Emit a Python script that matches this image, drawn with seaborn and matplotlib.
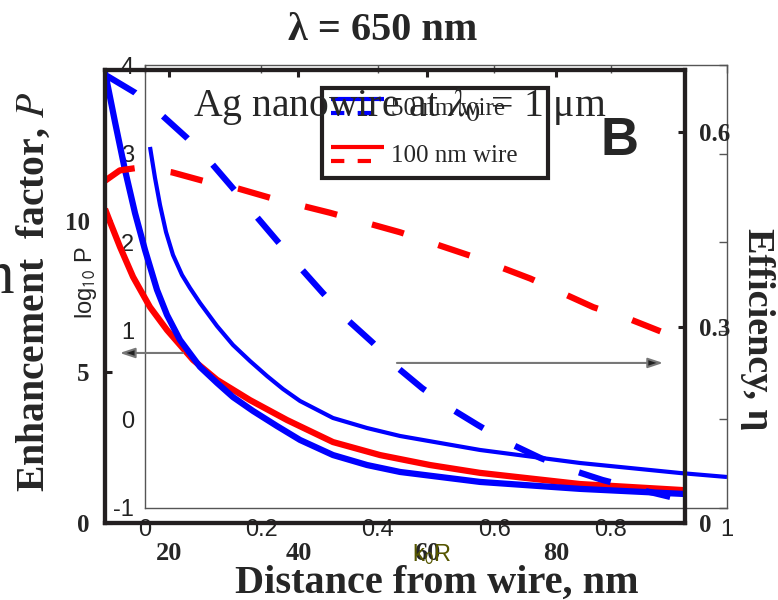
import numpy as np
import pandas as pd
import matplotlib
matplotlib.use("Agg")
import matplotlib.pyplot as plt
import seaborn as sns
from matplotlib.legend_handler import HandlerBase
from matplotlib.lines import Line2D
from matplotlib.patches import Rectangle

# --- outer panel: enhancement factor P (left) and efficiency (right) vs distance, nm
dist_p50 = [10, 11.55, 13.1, 14.66, 16.21, 18.07, 19.62, 21.64, 24.74, 27.38, 29.86, 32.97,
            36.69, 40.26, 45.38, 50.66, 55.78, 68.19, 83.71, 100]
p_50nm = [14.93, 13.28, 11.69, 10.26, 9.04, 7.72, 6.89, 6.06, 5.17, 4.64, 4.17, 3.71,
          3.21, 2.75, 2.25, 1.92, 1.69, 1.36, 1.13, 0.96]

dist_p100 = [10, 10.78, 12.33, 14.35, 16.98, 19.62, 23.66, 27.38, 32.5, 38.24, 45.38, 52.67,
             60.43, 68.19, 83.71, 99.7]
p_100nm = [10.40, 9.97, 9.14, 8.15, 7.15, 6.39, 5.40, 4.74, 4.07, 3.41, 2.68, 2.25,
           1.92, 1.66, 1.29, 1.09]

dist_eta50 = [10.3, 14.7, 18.9, 22.7, 26.6, 29.9, 33.6, 36.7, 40.0, 43.7, 47.7, 51.5,
              55.3, 59.2, 63.6, 67.9, 72.6, 77.5, 82.5, 87.2, 93.1, 97.7]
eta_50nm = [0.686, 0.660, 0.625, 0.591, 0.551, 0.513, 0.469, 0.433, 0.395, 0.354, 0.311, 0.277,
            0.239, 0.207, 0.176, 0.150, 0.123, 0.100, 0.081, 0.066, 0.051, 0.040]

dist_eta100 = [10, 12.3, 15.1, 20.4, 25.2, 30.7, 35.6, 44.9, 55.8, 66.7, 76.0, 85.8, 91.1, 96.2]
eta_100nm = [0.525, 0.541, 0.545, 0.538, 0.525, 0.513, 0.499, 0.476, 0.446, 0.410, 0.375,
             0.331, 0.314, 0.294]

# --- inner panel: log10 P vs k0R (Ag nanowire at 1 um)
k0r = [0.0086, 0.0172, 0.0258, 0.0361, 0.0481, 0.0636, 0.0773, 0.0945, 0.1237, 0.1512,
       0.1804, 0.2096, 0.2371, 0.2663, 0.323, 0.3814, 0.4381, 0.5756, 0.7474, 0.9192, 1.0]
log10_p = [3.075, 2.725, 2.420, 2.115, 1.856, 1.630, 1.483, 1.314, 1.054, 0.840,
           0.659, 0.490, 0.343, 0.208, 0.016, -0.097, -0.187, -0.345, -0.492, -0.605, -0.650]

outer_xticks = [20, 40, 60, 80]
outer_pticks = [0, 5, 10]
outer_etaticks = [0, 0.3, 0.6]
outer_etalabels = ["0", "0.3", "0.6"]
inner_xticks = [0, 0.2, 0.4, 0.6, 0.8, 1.0]
inner_xlabels = ["0", "0.2", "0.4", "0.6", "0.8", "1"]
inner_yticks = [-1, 0, 1, 2, 3, 4]

BLUE = "#0000ff"
RED = "#ff0000"
INK = "#231f20"
DASH = (5.3, 5.8)

sns.set_style("white")
plt.rcParams["font.family"] = ["Liberation Serif", "DejaVu Serif"]
plt.rcParams["mathtext.fontset"] = "stix"
plt.rcParams["axes.unicode_minus"] = False

W, H = 778, 600
fig = plt.figure(figsize=(W / 100, H / 100), dpi=100)


def fx(px):
    return px / W


def fy(py):
    return 1 - py / H


# inner (background) panel
ax_in = fig.add_axes([fx(145), fy(508), (727 - 145) / W, (508 - 65) / H])
ax_in.patch.set_alpha(0)
inner_df = pd.DataFrame({"k0r": k0r, "logp": log10_p})
sns.lineplot(data=inner_df, x="k0r", y="logp", ax=ax_in, color=BLUE, lw=3,
             solid_capstyle="butt", solid_joinstyle="round")
ax_in.set_xlim(0, 1)
ax_in.set_ylim(-1, 4)
ax_in.set_xticks(inner_xticks, inner_xlabels)
ax_in.set_yticks(inner_yticks)
ax_in.set_xlabel("")
ax_in.set_ylabel("")
for s in ax_in.spines.values():
    s.set_visible(True)
    s.set_color("#555555")
    s.set_linewidth(1)
ax_in.tick_params(direction="in", length=6, width=1, color="#555555",
                  top=True, right=True, labelsize=17, labelcolor="#222222", pad=8)
for lab in ax_in.get_xticklabels() + ax_in.get_yticklabels():
    lab.set_fontfamily("Liberation Sans")

# outer (foreground) panel
ax_p = fig.add_axes([fx(105), fy(523), (685 - 105) / W, (523 - 70) / H])
ax_p.patch.set_alpha(0)
ax_eta = ax_p.twinx()
ax_eta.patch.set_alpha(0)

p50_df = pd.DataFrame({"d": dist_p50, "p": p_50nm})
p100_df = pd.DataFrame({"d": dist_p100, "p": p_100nm})
e50_df = pd.DataFrame({"d": dist_eta50, "eta": eta_50nm})
e100_df = pd.DataFrame({"d": dist_eta100, "eta": eta_100nm})

sns.lineplot(data=p100_df, x="d", y="p", ax=ax_p, color=RED, lw=4.5,
             solid_capstyle="butt", solid_joinstyle="round")
sns.lineplot(data=p50_df, x="d", y="p", ax=ax_p, color=BLUE, lw=4.5,
             solid_capstyle="butt", solid_joinstyle="round")
sns.lineplot(data=e100_df, x="d", y="eta", ax=ax_eta, color=RED, lw=4.5)
ax_eta.lines[-1].set_dashes(DASH)
ax_eta.lines[-1].set_dash_capstyle("butt")
sns.lineplot(data=e50_df, x="d", y="eta", ax=ax_eta, color=BLUE, lw=4.5)
ax_eta.lines[-1].set_dashes(DASH)
ax_eta.lines[-1].set_dash_capstyle("butt")

ax_p.set_xlim(10, 100)
ax_p.set_ylim(0, 15)
ax_eta.set_ylim(0, 0.695)
ax_p.set_xticks(outer_xticks)
ax_p.set_yticks(outer_pticks)
ax_eta.set_yticks(outer_etaticks, outer_etalabels)
for a in (ax_p, ax_eta):
    a.set_xlabel("")
    a.set_ylabel("")
    for s in a.spines.values():
        s.set_visible(True)
        s.set_color(INK)
        s.set_linewidth(3)
ax_p.tick_params(axis="x", direction="in", length=5, width=2.2, color=INK, top=True,
                 labelsize=19, pad=14)
ax_p.tick_params(axis="y", direction="in", length=5, width=2.2, color=INK, right=False,
                 labelsize=18, pad=11)
ax_eta.tick_params(axis="y", direction="in", length=5, width=2.2, color=INK,
                   labelsize=18, pad=10)
for lab in ax_p.get_xticklabels() + ax_p.get_yticklabels() + ax_eta.get_yticklabels():
    lab.set_fontweight("bold")

# arrows pointing to the relevant axes
arrow = dict(arrowstyle="-|>,head_length=0.9,head_width=0.3", fc="#222222",
             ec="#777777", lw=1.5, shrinkA=0, shrinkB=0)
ax_p.annotate("", xy=(12.3, 5.63), xytext=(22.1, 5.63), arrowprops=arrow)
ax_p.annotate("", xy=(96.6, 5.3), xytext=(55.3, 5.3), arrowprops=arrow)


# legend: solid (P) above dashed (efficiency) for each wire
class StackedLines(HandlerBase):
    def create_artists(self, legend, orig_handle, xdescent, ydescent, width, height,
                       fontsize, trans):
        out = []
        for i, h in enumerate(orig_handle):
            y = height * (0.8 - 0.6 * i) - ydescent
            ln = Line2D([-xdescent, width - xdescent], [y, y], color=h.get_color(),
                        lw=3, transform=trans, solid_capstyle="butt")
            if i == 1:
                ln.set_dashes((3.2, 3.2))
                ln.set_dash_capstyle("butt")
            out.append(ln)
        return out


def ax_frac(px, py):
    return (px - 105) / 580, (523 - py) / 453


h50 = (Line2D([], [], color=BLUE), Line2D([], [], color=BLUE))
h100 = (Line2D([], [], color=RED), Line2D([], [], color=RED))
leg = ax_eta.legend([h50, h100], ["50 nm wire", "100 nm wire"],
                    handler_map={tuple: StackedLines()}, loc="upper left",
                    bbox_to_anchor=ax_frac(326, 90),
                    frameon=False, fontsize=18, handlelength=2.1,
                    handleheight=1.0, labelspacing=0.92, borderpad=0.2,
                    handletextpad=0.3, borderaxespad=0)
x0, y1 = ax_frac(322, 88)
x1, y0 = ax_frac(548, 178)
ax_eta.add_patch(Rectangle((x0, y0), x1 - x0, y1 - y0, transform=ax_eta.transAxes,
                           fill=False, ec=INK, lw=3, clip_on=False, zorder=5))

# texts of both panels
fig.text(fx(383), fy(40), "λ = 650 nm", fontsize=29, fontweight="bold",
         ha="center", va="baseline")
fig.text(fx(400), fy(116), r"Ag nanowire at $\lambda_0$ = 1 μm", fontsize=28.5,
         ha="center", va="baseline")
fig.text(fx(620), fy(155), "B", fontsize=38, fontweight="bold",
         fontfamily="Liberation Sans", ha="center", va="baseline")
fig.text(fx(437), fy(593), "Distance from wire, nm", fontsize=29, fontweight="bold",
         ha="center", va="baseline")
fig.text(fx(34), fy(292), "Enhancement  factor, $P$", fontsize=28.5, fontweight="bold",
         rotation=90, ha="center", va="center")
fig.text(fx(757), fy(329), "Efficiency, η", fontsize=27.5, fontweight="bold",
         rotation=270, ha="center", va="center")
fig.text(fx(86), fy(283), r"log$_{\mathsf{10}}$ P", fontsize=17,
         fontfamily="Liberation Sans", rotation=90, ha="center", va="center")
fig.text(fx(432), fy(555), r"k$_{\mathsf{0}}$R", fontsize=17, color="#555500",
         fontfamily="Liberation Sans", ha="center", va="center")
fig.text(fx(14), fy(293), "n", fontsize=44, ha="right", va="baseline")

fig.savefig("out.png", dpi=100)
